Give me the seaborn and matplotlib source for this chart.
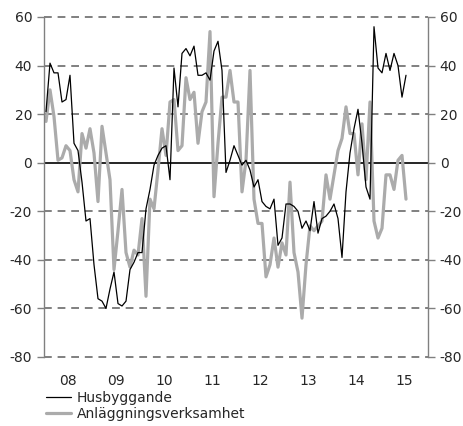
import matplotlib
matplotlib.use("Agg")
import matplotlib.pyplot as plt
import seaborn as sns
import numpy as np
import pandas as pd

# monthly values, Jan 2008 .. Jul 2015
husbyggande = [
    21, 41, 37, 37, 25, 26, 36, 8, 5, -8, -24, -23,
    -42, -56, -57, -60, -52, -45, -58, -59, -57, -44, -41, -37,
    -37, -19, -11, -1, 3, 6, 7, -7, 39, 23, 45, 47,
    44, 48, 36, 36, 37, 34, 46, 50, 38, -4, 1, 7,
    3, -1, 1, -3, -10, -7, -16, -18, -19, -15, -34, -31,
    -17, -17, -18, -20, -27, -24, -28, -16, -29, -23, -22, -20,
    -17, -23, -39, -12, 4, 14, 22, 8, -10, -15, 56, 39,
    37, 45, 38, 45, 40, 27, 36,
]
anlaggning = [
    17, 30, 19, 1, 2, 7, 5, -7, -12, 12, 6, 14,
    4, -16, 15, 4, -7, -44, -28, -11, -37, -43, -36, -38,
    -23, -55, -15, -19, -3, 14, 3, 25, 26, 5, 7, 35,
    26, 29, 8, 21, 25, 54, -14, 8, 27, 27, 38, 25,
    25, -12, 1, 38, -15, -25, -25, -47, -42, -31, -43, -33,
    -38, -8, -37, -45, -64, -42, -26, -28, -26, -24, -5, -15,
    -5, 5, 10, 23, 12, 12, -5, 16, -7, 25, -24, -31,
    -27, -5, -5, -11, 1, 3, -15,
]
year_labels = ["08", "09", "10", "11", "12", "13", "14", "15"]
series_names = ["Husbyggande", "Anläggningsverksamhet"]

months = np.arange(len(husbyggande)) + 0.5
df = pd.DataFrame({
    "month": np.concatenate([months, months]),
    "value": husbyggande + anlaggning,
    "serie": [series_names[0]] * len(husbyggande) + [series_names[1]] * len(anlaggning),
})

sns.set_style("white")
plt.rcParams["font.family"] = ["DejaVu Sans"]
plt.rcParams["axes.unicode_minus"] = False

fig = plt.figure(figsize=(4.63, 4.26), dpi=100)
ax = fig.add_axes([44 / 463, 1 - 357 / 426, 384 / 463, 340 / 426])

grey = "#808080"
for yv in [60, 40, 20, -20, -40, -60, -80]:
    ax.axhline(yv, color=grey, lw=1.4, ls=(0, (4, 3)), zorder=1, clip_on=False)
ax.axhline(0, color="black", lw=1.2, zorder=1)

sns.lineplot(data=df[df.serie == series_names[1]], x="month", y="value",
             color="#ababab", lw=2.3, ax=ax, label=series_names[1], zorder=2)
sns.lineplot(data=df[df.serie == series_names[0]], x="month", y="value",
             color="black", lw=0.9, ax=ax, label=series_names[0], zorder=3)

ax.set_xlim(0, 96)
ax.set_ylim(-80, 60)
ax.set_yticks(range(-80, 61, 20))
ax.set_xticks(range(0, 97, 12))
ax.set_xticklabels([])
ax.set_xticks(np.arange(6, 96, 12), minor=True)
ax.set_xticklabels(year_labels, minor=True)
ax.tick_params(axis="x", which="major", length=5, color=grey, width=1)
ax.tick_params(axis="x", which="minor", length=0, labelsize=10, pad=12)
ax.tick_params(axis="y", length=5, color=grey, width=1, labelsize=10,
               left=True, right=True, labelleft=True, labelright=True)
ax.set_xlabel("")
ax.set_ylabel("")
for side in ["left", "right"]:
    ax.spines[side].set_color(grey)
    ax.spines[side].set_linewidth(1)
for side in ["top", "bottom"]:
    ax.spines[side].set_visible(False)

handles, labels = ax.get_legend_handles_labels()
ax.legend_.remove()
order = [labels.index(n) for n in series_names]
fig.legend([handles[i] for i in order], [labels[i] for i in order],
           loc="upper left", bbox_to_anchor=(46 / 463, 1 - 391 / 426),
           frameon=False, fontsize=10, handlelength=1.8, handletextpad=0.4,
           labelspacing=0.15, borderaxespad=0, borderpad=0)

fig.savefig("out.png", dpi=100)
